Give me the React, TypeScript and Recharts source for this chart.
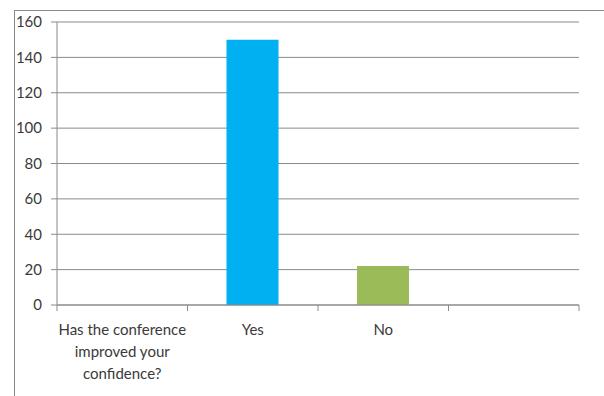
import { BarChart, Bar, XAxis, YAxis, CartesianGrid, Cell } from 'recharts';

const categories = ['Has the conference\nimproved your\nconfidence?', 'Yes', 'No', ''];
const values: (number | null)[] = [null, 150, 22, null];
const barColors = ['#00B0F0', '#00B0F0', '#9BBB59', '#9BBB59'];
const yTicks = [0, 20, 40, 60, 80, 100, 120, 140, 160];

const W = 604;
const H = 396;
const M = { top: 22, right: 25, bottom: 0, left: 7 };
const Y_AXIS_W = 50;
const X_AXIS_H = 91;
const AXIS_COLOR = '#8a8a8a';
const TEXT_COLOR = '#3a3a3a';
const FONT = 'Lato, "Open Sans", sans-serif';

const band = (W - M.left - Y_AXIS_W - M.right) / categories.length;
const plotBottom = H - M.bottom - X_AXIS_H;

const data = categories.map((c, i) => ({ category: c, value: values[i] }));

function CategoryTick({ x, y, payload, index }: any) {
  const lines = String(payload.value).split('\n');
  const isLast = index === categories.length - 1;
  return (
    <g>
      <line x1={x - band / 2} x2={x - band / 2} y1={plotBottom} y2={plotBottom + 6} stroke={AXIS_COLOR} />
      {isLast && (
        <line x1={x + band / 2} x2={x + band / 2} y1={plotBottom} y2={plotBottom + 6} stroke={AXIS_COLOR} />
      )}
      <text x={x} y={plotBottom + 30} textAnchor="middle" fontSize={15} fill={TEXT_COLOR} fontFamily={FONT}>
        {lines.map((l, i) => (
          <tspan key={i} x={x} dy={i === 0 ? 0 : 22}>
            {l}
          </tspan>
        ))}
      </text>
    </g>
  );
}

export default function App() {
  return (
    <div style={{ position: 'absolute', left: 0, top: 0, width: W, height: H, background: '#fff' }}>
      <div
        style={{
          position: 'absolute',
          left: 14,
          top: 10,
          width: W - 14,
          height: H - 10,
          borderLeft: `1px solid ${AXIS_COLOR}`,
          borderTop: `1px solid ${AXIS_COLOR}`,
        }}
      />
      <BarChart width={W} height={H} data={data} margin={M} style={{ position: 'absolute', left: 0, top: 0 }}>
        <CartesianGrid vertical={false} stroke={AXIS_COLOR} />
        <XAxis
          dataKey="category"
          height={X_AXIS_H}
          interval={0}
          tickLine={false}
          axisLine={{ stroke: AXIS_COLOR }}
          tick={<CategoryTick />}
        />
        <YAxis
          width={Y_AXIS_W}
          domain={[0, 160]}
          ticks={yTicks}
          tickSize={6}
          tickMargin={9}
          axisLine={{ stroke: AXIS_COLOR }}
          tickLine={{ stroke: AXIS_COLOR }}
          tick={{ fontSize: 15, fill: TEXT_COLOR, fontFamily: FONT }}
        />
        <Bar dataKey="value" barSize={52} isAnimationActive={false}>
          {data.map((d, i) => (
            <Cell key={i} fill={barColors[i]} />
          ))}
        </Bar>
      </BarChart>
    </div>
  );
}
